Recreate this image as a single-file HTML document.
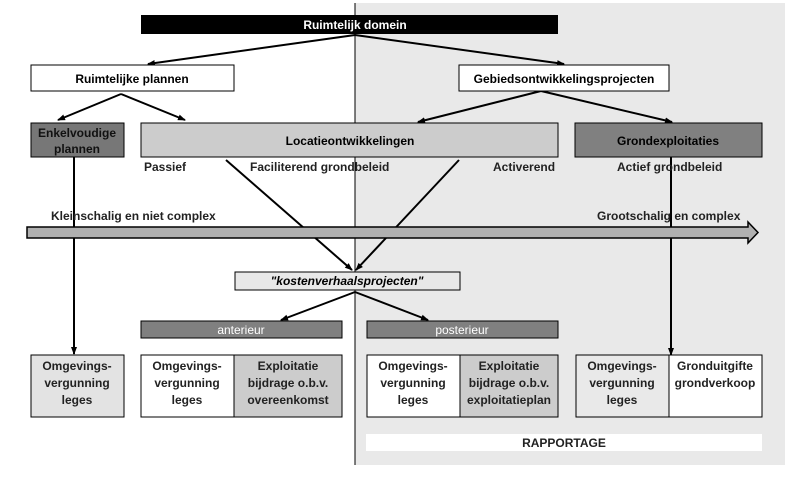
<!DOCTYPE html>
<html><head><meta charset="utf-8"><style>
html,body{margin:0;padding:0;background:#fff;}
svg{display:block;font-family:"Liberation Sans",Arial,sans-serif;font-weight:bold;}
</style></head><body>
<svg width="792" height="477" viewBox="0 0 792 477" xmlns="http://www.w3.org/2000/svg">
<defs>
<marker id="a" markerWidth="8" markerHeight="8" refX="7" refY="4" orient="auto" markerUnits="userSpaceOnUse">
<path d="M0,1 L8,4 L0,7 z" fill="#000"/></marker>
</defs>
<rect x="355" y="3" width="430" height="462" fill="#e9e9e9"/>
<line x1="355" y1="3" x2="355" y2="465" stroke="#000" stroke-width="1"/>

<rect x="141" y="15" width="417" height="19" fill="#000"/>
<text x="355" y="29" font-size="12" fill="#fff" text-anchor="middle">Ruimtelijk domein</text>

<g stroke="#000" stroke-width="2" fill="none">
<line x1="355" y1="35" x2="148" y2="64" marker-end="url(#a)"/>
<line x1="355" y1="35" x2="564" y2="64" marker-end="url(#a)"/>
<line x1="121" y1="94" x2="58" y2="120" marker-end="url(#a)"/>
<line x1="121" y1="94" x2="185" y2="120" marker-end="url(#a)"/>
<line x1="541" y1="91" x2="418" y2="122" marker-end="url(#a)"/>
<line x1="541" y1="91" x2="672" y2="122" marker-end="url(#a)"/>
<line x1="226" y1="160" x2="352" y2="270" marker-end="url(#a)"/>
<line x1="459" y1="160" x2="356" y2="270" marker-end="url(#a)"/>
<line x1="355" y1="292" x2="281" y2="320" marker-end="url(#a)"/>
<line x1="355" y1="292" x2="428" y2="320" marker-end="url(#a)"/>
<line x1="74" y1="157" x2="74" y2="354" marker-end="url(#a)"/>
<line x1="671" y1="157" x2="671" y2="355" marker-end="url(#a)"/>
</g>

<g stroke="#000" stroke-width="1">
<rect x="31" y="65" width="203" height="26" fill="#fff"/>
<rect x="459" y="65" width="210" height="26" fill="#fff"/>
<rect x="31" y="123" width="93" height="34" fill="#777"/>
<rect x="141" y="123" width="417" height="34" fill="#cccccc"/>
<rect x="575" y="123" width="187" height="34" fill="#808080"/>
</g>
<text x="132" y="83" font-size="12" text-anchor="middle">Ruimtelijke plannen</text>
<text x="564" y="83" font-size="12" text-anchor="middle">Gebiedsontwikkelingsprojecten</text>
<text x="77" y="137" font-size="12" text-anchor="middle" fill="#111">Enkelvoudige</text>
<text x="77" y="153" font-size="12" text-anchor="middle" fill="#111">plannen</text>
<text x="350" y="145" font-size="12" text-anchor="middle">Locatieontwikkelingen</text>
<text x="668" y="145" font-size="12" text-anchor="middle">Grondexploitaties</text>

<g font-size="12" fill="#222">
<text x="144" y="171">Passief</text>
<text x="250" y="171">Faciliterend grondbeleid</text>
<text x="493" y="171">Activerend</text>
<text x="617" y="171">Actief grondbeleid</text>
<text x="51" y="220">Kleinschalig en niet complex</text>
<text x="597" y="220">Grootschalig en complex</text>
</g>

<path d="M27,227 L748,227 L748,222 L758,232.5 L748,243 L748,238 L27,238 z" fill="#b0b0b0" stroke="#000" stroke-width="1.5"/>

<rect x="235" y="272" width="225" height="18" fill="#e8e8e8" stroke="#000" stroke-width="1"/>
<text x="347" y="285" font-size="12" font-style="italic" text-anchor="middle">"kostenverhaalsprojecten"</text>

<rect x="141" y="321" width="201" height="17" fill="#808080" stroke="#000" stroke-width="1"/>
<rect x="367" y="321" width="191" height="17" fill="#808080" stroke="#000" stroke-width="1"/>
<text x="241" y="334" font-size="12" fill="#fff" font-weight="normal" text-anchor="middle">anterieur</text>
<text x="462" y="334" font-size="12" fill="#fff" font-weight="normal" text-anchor="middle">posterieur</text>

<g stroke="#000" stroke-width="1">
<rect x="31" y="355" width="93" height="62" fill="#e3e3e3"/>
<rect x="141" y="355" width="93" height="62" fill="#fff"/>
<rect x="234" y="355" width="108" height="62" fill="#cccccc"/>
<rect x="367" y="355" width="93" height="62" fill="#fff"/>
<rect x="460" y="355" width="98" height="62" fill="#cccccc"/>
<rect x="576" y="355" width="93" height="62" fill="#e9e9e9"/>
<rect x="669" y="355" width="93" height="62" fill="#fff"/>
</g>
<g font-size="12" text-anchor="middle" fill="#222">
<text x="77" y="370">Omgevings-</text><text x="77" y="387">vergunning</text><text x="77" y="404">leges</text>
<text x="187" y="370">Omgevings-</text><text x="187" y="387">vergunning</text><text x="187" y="404">leges</text>
<text x="288" y="370">Exploitatie</text><text x="288" y="387">bijdrage o.b.v.</text><text x="288" y="404">overeenkomst</text>
<text x="413" y="370">Omgevings-</text><text x="413" y="387">vergunning</text><text x="413" y="404">leges</text>
<text x="509" y="370">Exploitatie</text><text x="509" y="387">bijdrage o.b.v.</text><text x="509" y="404">exploitatieplan</text>
<text x="622" y="370">Omgevings-</text><text x="622" y="387">vergunning</text><text x="622" y="404">leges</text>
<text x="715" y="370">Gronduitgifte</text><text x="715" y="387">grondverkoop</text>
</g>

<rect x="366" y="434" width="396" height="17" fill="#fff"/>
<text x="564" y="447" font-size="12" text-anchor="middle" fill="#222">RAPPORTAGE</text>
</svg>
</body></html>
